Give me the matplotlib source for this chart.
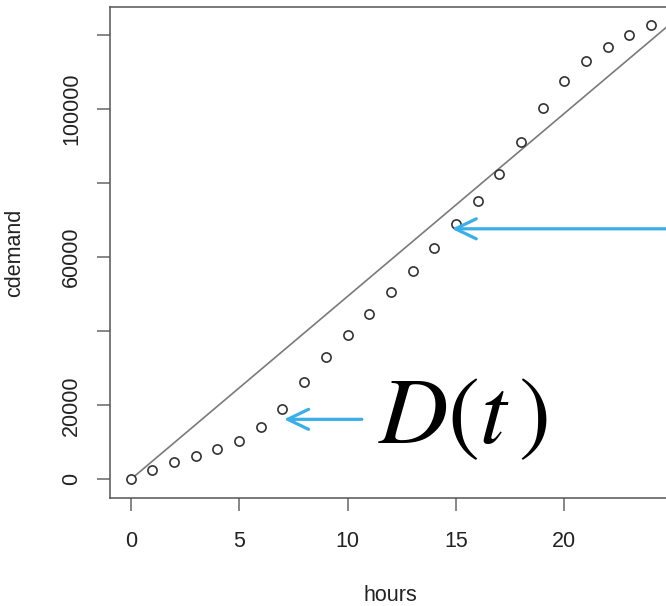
import numpy as np
import matplotlib
matplotlib.use("Agg")
import matplotlib.pyplot as plt

plt.rcParams['font.family'] = ['Liberation Sans', 'DejaVu Sans']
plt.rcParams['mathtext.fontset'] = 'stix'

# ----------------------------------------------------------------------
# data
# ----------------------------------------------------------------------
hours = list(range(25))
cdemand = [0, 2500, 4760, 6370, 8150, 10480, 14060, 19090, 26160, 33060,
           38900, 44540, 50620, 56370, 62370, 69010, 75190, 82530, 91050,
           100350, 107610, 112990, 116750, 120080, 122580]

# straight reference line (constant rate)
line_hours = [0, 25]
line_demand = [0, 123500]

yticks = [0, 20000, 40000, 60000, 80000, 100000, 120000]
ytick_labels = ['0', '20000', '', '60000', '', '100000', '']
xticks = [0, 5, 10, 15, 20]

# ----------------------------------------------------------------------
# figure
# ----------------------------------------------------------------------
W, H = 666, 606
fig = plt.figure(figsize=(W / 100, H / 100), dpi=100)

left_px, bottom_px, top_px = 110, 497.5, 7.3
xr = max(hours) - min(hours)
xlim = (min(hours) - 0.04 * xr, max(hours) + 0.04 * xr)
px_per_hour = 21.67
width_px = (xlim[1] - xlim[0]) * px_per_hour
ax = fig.add_axes([left_px / W, (H - bottom_px) / H,
                   width_px / W, (bottom_px - top_px) / H])

yr = max(cdemand) - min(cdemand)
ax.set_xlim(*xlim)
ax.set_ylim(min(cdemand) - 0.04 * yr, max(cdemand) + 0.04 * yr)

ax.plot(line_hours, line_demand, color='#7a7a7a', lw=1.2, zorder=2)
ax.plot(hours, cdemand, 'o', mfc='white', mec='#333333', mew=1.2, ms=6.6,
        zorder=3)

for s in ax.spines.values():
    s.set_color('#555555')
    s.set_linewidth(1.1)

ax.set_xticks(xticks)
ax.set_yticks(yticks)
ax.set_yticklabels(ytick_labels, rotation=90, va='center')
ax.tick_params(axis='both', direction='out', length=9.4, width=1.1,
               color='#666666', labelsize=15.5, labelcolor='#222222')
ax.tick_params(axis='x', pad=15)
ax.tick_params(axis='y', pad=10.5)

ax.set_xlabel('hours', fontsize=15.5, color='#222222', va='center')
ax.xaxis.set_label_coords(0.5, -0.199)
ax.set_ylabel('cdemand', fontsize=15.5, color='#222222', va='center')
ax.yaxis.set_label_coords(-0.169, 0.5)

# ----------------------------------------------------------------------
# annotations
# ----------------------------------------------------------------------
blue = '#3aaee8'
arrow = dict(arrowstyle='->,head_length=1.5,head_width=0.72', color=blue,
             lw=2.3, shrinkA=0, shrinkB=0)
ax.annotate('', xy=(14.81, 67660), xytext=(25.2, 67660), arrowprops=arrow,
            annotation_clip=False)
ax.annotate('', xy=(7.07, 16210), xytext=(10.66, 16210), arrowprops=arrow,
            annotation_clip=False)

ax.text(11.4, 9680, r'$D(t\,)$', fontsize=69, color='black',
        ha='left', va='baseline')

fig.savefig('out.png', dpi=100)
